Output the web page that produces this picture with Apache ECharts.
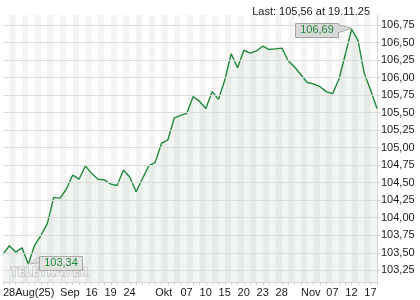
<!DOCTYPE html>
<html><head><meta charset="utf-8">
<script src="https://cdn.jsdelivr.net/npm/echarts@6/dist/echarts.min.js"></script>
<style>html,body{margin:0;padding:0;background:#fff}#c{width:420px;height:300px}</style>
</head><body><div id="c"></div>
<script>
const dates = [
 '28.08.25','29.08.25',
 '01.09.25','02.09.25','03.09.25','04.09.25','05.09.25','08.09.25','09.09.25','10.09.25','11.09.25','12.09.25',
 '15.09.25','16.09.25','17.09.25','18.09.25','19.09.25','22.09.25','23.09.25','24.09.25','25.09.25','26.09.25','29.09.25','30.09.25',
 '01.10.25','02.10.25','03.10.25','06.10.25','07.10.25','08.10.25','09.10.25','10.10.25','13.10.25','14.10.25','15.10.25','16.10.25','17.10.25',
 '20.10.25','21.10.25','22.10.25','23.10.25','24.10.25','27.10.25','28.10.25','29.10.25','30.10.25','31.10.25',
 '03.11.25','04.11.25','05.11.25','06.11.25','07.11.25','10.11.25','11.11.25','12.11.25','13.11.25','14.11.25','17.11.25','18.11.25','19.11.25'
];
const values = [
 103.48,103.60,103.51,103.57,103.34,103.61,103.75,103.92,104.29,104.28,
 104.41,104.61,104.55,104.74,104.63,104.55,104.54,104.48,104.46,104.68,
 104.58,104.37,104.56,104.74,104.79,105.06,105.11,105.42,105.46,105.49,
 105.73,105.66,105.56,105.80,105.69,105.97,106.34,106.14,106.39,106.35,
 106.38,106.45,106.40,106.41,106.42,106.24,106.15,106.04,105.93,105.91,
 105.87,105.80,105.77,105.98,106.33,106.69,106.53,106.06,105.82,105.56
];
const tickDates = ['28.08.25','10.09.25','16.09.25','19.09.25','24.09.25','01.10.25','07.10.25','10.10.25','15.10.25','20.10.25','23.10.25','28.10.25','03.11.25','07.11.25','12.11.25','17.11.25'];
const tickTexts = ['28Aug(25)','Sep','16','19','24','Okt','07','10','15','20','23','28','Nov','07','12','17'];
const yTicks = [103.25,103.50,103.75,104.00,104.25,104.50,104.75,105.00,105.25,105.50,105.75,106.00,106.25,106.50,106.75];
const yMin = 103.083, yMax = 106.893;
const lastLabel = 'Last: 105,56 at 19.11.25';
const watermark = 'TELETRADER';

const FONT = '"Liberation Sans", Arial, sans-serif';
const fmt = v => v.toFixed(2).replace('.', ',');
const chart = echarts.init(document.getElementById('c'), null, {renderer: 'canvas'});

chart.setOption({
  animation: false,
  backgroundColor: '#fff',
  title: {
    text: lastLabel, right: 45, top: 1,
    textStyle: {fontSize: 11, fontWeight: 'normal', color: '#1a1a1a', fontFamily: FONT}
  },
  grid: {left: 3, right: 43, top: 15, bottom: 18},
  xAxis: {
    type: 'category', data: dates, boundaryGap: false,
    axisLine: {show: true, lineStyle: {color: '#d6d6d6', width: 1}},
    axisTick: {show: true, interval: 0, length: 3, lineStyle: {color: '#d0d0d0'}},
    splitArea: {show: true, interval: 0, areaStyle: {color: ['#ffffff', '#f4f4f4']}},
    splitLine: {show: false},
    axisLabel: {
      interval: (i, v) => tickDates.indexOf(v) >= 0,
      formatter: v => tickTexts[tickDates.indexOf(v)] || '',
      align: 'left', padding: [0, 0, 0, 0], margin: 5,
      fontSize: 11, color: '#1a1a1a', fontFamily: FONT
    }
  },
  yAxis: {
    type: 'value', position: 'right', min: yMin, max: yMax, scale: true,
    axisLine: {show: true, lineStyle: {color: '#d6d6d6'}},
    axisTick: {show: true, length: 3, customValues: yTicks, lineStyle: {color: '#d0d0d0'}},
    axisLabel: {customValues: yTicks, formatter: v => fmt(v), margin: 4, fontSize: 11, color: '#1a1a1a', fontFamily: FONT},
    splitLine: {show: false}
  },
  series: [{
    type: 'line', data: values, symbol: 'none', silent: true,
    lineStyle: {opacity: 0}, z: 1,
    markLine: {
      silent: true, symbol: ['none', 'none'], label: {show: false}, animation: false,
      lineStyle: {color: '#dcdcdc', width: 1, type: 'solid'},
      emphasis: {disabled: true},
      data: yTicks.map(v => ({yAxis: v}))
    }
  }, {
    type: 'line', data: values, symbol: 'none', smooth: false,
    lineStyle: {color: '#20893a', width: 1.4},
    areaStyle: {color: 'rgba(30,110,40,0.085)', origin: 'start'},
    z: 3
  }]
});

const maxIdx = values.indexOf(Math.max(...values));
const minIdx = values.indexOf(Math.min(...values));
const pMax = chart.convertToPixel({gridIndex: 0}, [dates[maxIdx], values[maxIdx]]);
const pMin = chart.convertToPixel({gridIndex: 0}, [dates[minIdx], values[minIdx]]);

function callout(p, side, fill, stroke) {
  const bw = 43, bh = 14;
  let bx, by, pts;
  if (side === 'left') {
    bx = p[0] - 14 - bw; by = p[1] - 6.5;
    pts = [[bx + bw, by + 2], [p[0], p[1] - 1], [bx + bw, by + bh - 4]];
  } else {
    bx = p[0] + 11; by = p[1] - 7.5;
    pts = [[bx, by + 0.5], [p[0] + 0.5, p[1]], [bx, by + 6]];
  }
  return [
    {type: 'polygon', shape: {points: pts}, style: {fill: fill, stroke: stroke, lineWidth: 1}, z: 100},
    {type: 'rect', shape: {x: Math.round(bx) + 0.5, y: Math.round(by) + 0.5, width: bw, height: bh},
     style: {fill: fill, stroke: stroke, lineWidth: 1}, z: 101},
    {type: 'polygon', shape: {points: [[pts[0][0] - 0.5, pts[0][1] + 0.5], [pts[1][0] - 1.5, pts[1][1]], [pts[2][0] - 0.5, pts[2][1] - 0.5]]},
     style: {fill: fill}, z: 102},
    {type: 'text', x: Math.round(bx) + 0.5 + bw / 2, y: Math.round(by) + 0.5 + bh / 2 - 0.5, z: 103,
     style: {text: fmt(values[side === 'left' ? maxIdx : minIdx]), fill: '#1e8a36', font: '11px ' + FONT, align: 'center', verticalAlign: 'middle'}}
  ];
}

chart.setOption({
  graphic: [
    ...callout(pMax, 'left', '#d9d9d9', '#a3a3a3'),
    ...callout(pMin, 'right', 'rgba(222,224,222,0.85)', '#a8a8a8'),
    {type: 'text', left: 10, top: 266, z: 99,
     style: {text: watermark, font: 'bold 12px "Liberation Sans Narrow", "DejaVu Sans Condensed", sans-serif',
             fill: 'rgba(255,255,255,0.6)', stroke: 'rgba(165,165,165,0.75)', lineWidth: 1}}
  ]
});
</script></body></html>
